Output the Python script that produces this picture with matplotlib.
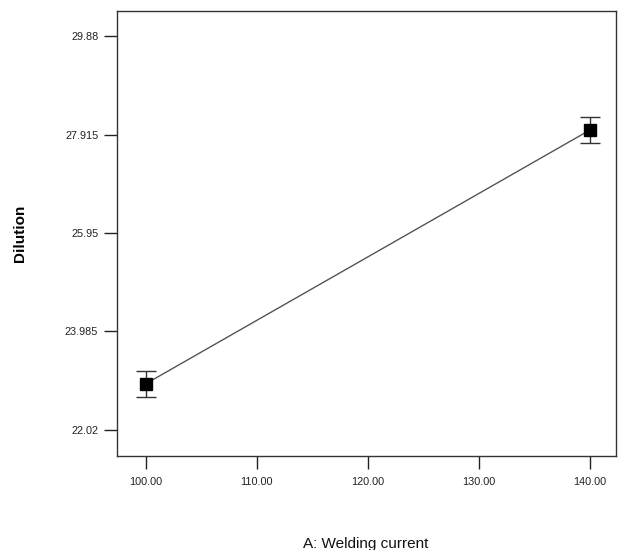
import matplotlib
matplotlib.use("Agg")
import matplotlib.pyplot as plt

current = [100.0, 140.0]
dilution = [22.94, 28.0]
err = [0.26, 0.26]
xticks = [100.0, 110.0, 120.0, 130.0, 140.0]
yticks = [22.02, 23.985, 25.95, 27.915, 29.88]
ytick_labels = ["22.02", "23.985", "25.95", "27.915", "29.88"]

plt.rcParams['font.family'] = ['Liberation Sans', 'DejaVu Sans']

fig = plt.figure(figsize=(6.18, 5.5), dpi=100)
ax = fig.add_axes([0.189, 0.171, 0.808, 0.809])

ax.plot(current, dilution, color='#555555', lw=1.0, zorder=2)
ax.errorbar(current, dilution, yerr=err, fmt='none', ecolor='#333333',
            elinewidth=1.0, capsize=7.5, capthick=1.0, zorder=3)
ax.plot(current, dilution, 's', color='black', markersize=8, zorder=4)

ax.set_xlim(97.39, 142.4)
ax.set_ylim(21.50, 30.38)
ax.set_xticks(xticks)
ax.set_xticklabels([f"{v:.2f}" for v in xticks])
ax.set_yticks(yticks)
ax.set_yticklabels(ytick_labels)
ax.tick_params(direction='out', length=9.3, width=1.0, labelsize=7.8,
               colors='#222222', pad=4)
ax.tick_params(axis='x', pad=6)
for s in ax.spines.values():
    s.set_linewidth(1.0)
    s.set_color('#333333')

fig.text(0.592, 0.0036, "A: Welding current", fontsize=11,
         ha='center', va='baseline', color='#111111')
fig.text(0.033, 0.575, "Dilution", rotation=90, fontsize=11, fontweight='bold',
         ha='center', va='center')

fig.savefig("out.png", dpi=100)
